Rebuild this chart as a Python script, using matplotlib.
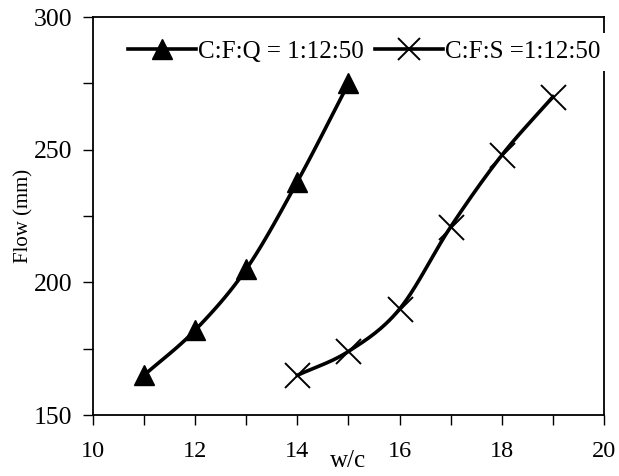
import numpy as np
import matplotlib
matplotlib.use('Agg')
import matplotlib.pyplot as plt
from matplotlib.ticker import MultipleLocator

plt.rcParams['font.family'] = ['Liberation Serif', 'DejaVu Serif']

# data
wc_q = [11, 12, 13, 14, 15]
flow_q = [165, 182, 205, 238, 275]
wc_s = [14, 15, 16, 17, 18, 19]
flow_s = [165, 174, 190, 221, 248, 270]
label_q = 'C:F:Q = 1:12:50'
label_s = 'C:F:S =1:12:50'


def smooth(x, y, n=30):
    # catmull-rom style smoothing, like a spreadsheet's "smoothed line"
    x = np.asarray(x, float)
    y = np.asarray(y, float)
    px = np.concatenate([[2 * x[0] - x[1]], x, [2 * x[-1] - x[-2]]])
    py = np.concatenate([[2 * y[0] - y[1]], y, [2 * y[-1] - y[-2]]])
    xs, ys = [], []
    t = np.linspace(0, 1, n)
    for i in range(1, len(px) - 2):
        for p, out in ((px, xs), (py, ys)):
            p0, p1, p2, p3 = p[i - 1], p[i], p[i + 1], p[i + 2]
            out.extend(0.5 * ((2 * p1) + (-p0 + p2) * t
                              + (2 * p0 - 5 * p1 + 4 * p2 - p3) * t ** 2
                              + (-p0 + 3 * p1 - 3 * p2 + p3) * t ** 3))
    return xs, ys


fig = plt.figure(figsize=(6.19, 4.76), dpi=100)
ax = fig.add_axes([0.150, 0.128, 0.826, 0.836])

sx, sy = smooth(wc_q, flow_q)
ax.plot(sx, sy, color='black', lw=2.6)
ax.plot(wc_q, flow_q, ls='none', marker='^', ms=14, color='black')
sx, sy = smooth(wc_s, flow_s)
ax.plot(sx, sy, color='black', lw=2.6)
ax.plot(wc_s, flow_s, ls='none', marker='x', ms=18, mew=1.4, color='black')

# legend proxies
hq, = ax.plot([], [], color='black', lw=2.6, marker='^', ms=14)
hs, = ax.plot([], [], color='black', lw=2.6, marker='x', ms=16, mew=1.4)
leg = ax.legend([hq, hs], [label_q, label_s], ncol=2, loc='center right',
                bbox_to_anchor=(1.008, 0.913), frameon=True, fancybox=False,
                edgecolor='none', framealpha=1, fontsize=18,
                handlelength=2.7, handletextpad=0.1, columnspacing=0.45,
                borderpad=0.3, borderaxespad=0)
leg.set_zorder(5)
leg.set_clip_on(False)

ax.set_xlim(10, 20)
ax.set_ylim(150, 300)
ax.xaxis.set_major_locator(MultipleLocator(2))
ax.xaxis.set_minor_locator(MultipleLocator(1))
ax.yaxis.set_major_locator(MultipleLocator(50))
ax.yaxis.set_minor_locator(MultipleLocator(25))
ax.tick_params(which='both', direction='out', length=7, width=1, labelsize=18.5)
ax.tick_params(axis='x', pad=12, labelsize=17.5)
ax.tick_params(axis='y', pad=8)
for s in ax.spines.values():
    s.set_linewidth(1.3)

ax.set_xlabel('w/c', fontsize=18, labelpad=-9)
ax.set_ylabel('Flow (mm)', fontsize=15, labelpad=0)

fig.savefig('out.png', dpi=100)
